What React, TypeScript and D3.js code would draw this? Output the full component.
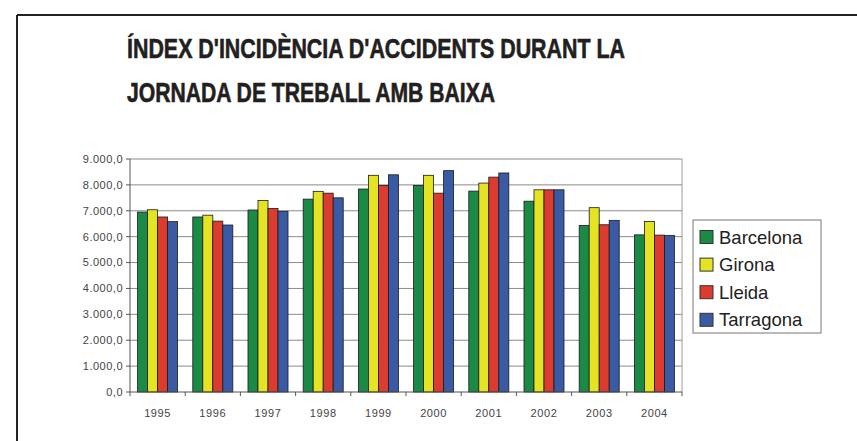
import * as d3 from "d3";

const years = ["1995", "1996", "1997", "1998", "1999", "2000", "2001", "2002", "2003", "2004"];
const provinces = ["Barcelona", "Girona", "Lleida", "Tarragona"];

const barcelona = [6950, 6760, 7030, 7450, 7840, 7980, 7760, 7370, 6430, 6070];
const girona = [7040, 6830, 7400, 7750, 8370, 8370, 8070, 7810, 7120, 6590];
const lleida = [6760, 6600, 7090, 7680, 7980, 7680, 8300, 7810, 6460, 6060];
const tarragona = [6580, 6450, 6980, 7500, 8390, 8550, 8460, 7810, 6630, 6050];

const yTicks = [0, 1000, 2000, 3000, 4000, 5000, 6000, 7000, 8000, 9000];

const COLORS: Record<string, string> = {
  Barcelona: "#1b8a47",
  Girona: "#e4e424",
  Lleida: "#dc3b30",
  Tarragona: "#3a5ba3",
};

const seriesByProvince: Record<string, number[]> = {
  Barcelona: barcelona,
  Girona: girona,
  Lleida: lleida,
  Tarragona: tarragona,
};

const fmt = d3
  .formatLocale({ decimal: ",", thousands: ".", grouping: [3], currency: ["", ""] })
  .format(",.1f");

const W = 857;
const H = 441;
const plot = { left: 130, right: 682, top: 159, bottom: 392 };

export default function App() {
  const x = d3
    .scaleBand<string>()
    .domain(years)
    .range([plot.left, plot.right])
    .paddingInner(0.275)
    .paddingOuter(0.1375);
  const xs = d3.scaleBand<string>().domain(provinces).range([0, x.bandwidth()]);
  const y = d3.scaleLinear().domain([0, 9000]).range([plot.bottom, plot.top]);

  const step = x.step();
  const boundaries = d3.range(years.length + 1).map((i) => plot.left + i * step);

  const axisFont = "'Liberation Sans', Arial, sans-serif";

  return (
    <svg
      width={W}
      height={H}
      style={{ position: "absolute", left: 0, top: 0, background: "#fff" }}
    >
      {/* frame */}
      <line x1={17} y1={15} x2={W} y2={15} stroke="#222" strokeWidth={2} />
      <line x1={17} y1={15} x2={17} y2={H} stroke="#222" strokeWidth={2} />

      {/* title */}
      <g
        fontFamily="'Liberation Sans Narrow', 'Liberation Sans', Arial, sans-serif"
        fontWeight="bold"
        fontSize={27}
        fill="#231f20"
        stroke="#231f20"
        strokeWidth={0.6}
      >
        <text x={127} y={58} textLength={498} lengthAdjust="spacingAndGlyphs">
          ÍNDEX D'INCIDÈNCIA D'ACCIDENTS DURANT LA
        </text>
        <text x={127} y={102} textLength={368} lengthAdjust="spacingAndGlyphs">
          JORNADA DE TREBALL AMB BAIXA
        </text>
      </g>

      {/* grid */}
      {yTicks.slice(1).map((t) => (
        <line key={t} x1={plot.left} x2={plot.right} y1={y(t)} y2={y(t)} stroke="#8a8a8a" strokeWidth={1} />
      ))}
      <line x1={plot.right} x2={plot.right} y1={plot.top} y2={plot.bottom} stroke="#9a9a9a" strokeWidth={1} />

      {/* bars */}
      {years.map((yr, i) => (
        <g key={yr} transform={`translate(${x(yr)},0)`}>
          {provinces.map((p) => {
            const v = seriesByProvince[p][i];
            return (
              <rect
                key={p}
                x={xs(p)}
                y={y(v)}
                width={xs.bandwidth()}
                height={y(0) - y(v)}
                fill={COLORS[p]}
                stroke="#1a1a1a"
                strokeWidth={0.8}
              />
            );
          })}
        </g>
      ))}

      {/* axes */}
      <line x1={plot.left} x2={plot.left} y1={plot.top} y2={plot.bottom} stroke="#555" strokeWidth={1} />
      <line x1={plot.left} x2={plot.right} y1={plot.bottom} y2={plot.bottom} stroke="#555" strokeWidth={1} />
      {yTicks.map((t) => (
        <g key={t}>
          <line x1={plot.left - 4} x2={plot.left} y1={y(t)} y2={y(t)} stroke="#555" />
          <text
            x={plot.left - 7}
            y={y(t)}
            dy="0.35em"
            textAnchor="end"
            fontFamily={axisFont}
            fontSize={11}
            letterSpacing={0.5}
            fill="#444"
          >
            {fmt(t)}
          </text>
        </g>
      ))}
      {boundaries.map((bx, i) => (
        <line key={i} x1={bx} x2={bx} y1={plot.bottom} y2={plot.bottom + 4} stroke="#555" />
      ))}
      {years.map((yr) => (
        <text
          key={yr}
          x={(x(yr) ?? 0) + x.bandwidth() / 2}
          y={417}
          textAnchor="middle"
          fontFamily={axisFont}
          fontSize={11}
          letterSpacing={0.6}
          fill="#444"
        >
          {yr}
        </text>
      ))}

      {/* legend */}
      <rect x={693} y={220} width={128} height={113} fill="#fff" stroke="#777" strokeWidth={1} />
      {provinces.map((p, i) => {
        const cy = 237 + i * 27.6;
        return (
          <g key={p}>
            <rect x={700} y={cy - 6.5} width={13} height={13} fill={COLORS[p]} stroke="#333" strokeWidth={1} />
            <text
              x={719}
              y={cy}
              dy="0.36em"
              fontFamily={axisFont}
              fontSize={18.5}
              fill="#222"
            >
              {p}
            </text>
          </g>
        );
      })}
    </svg>
  );
}
